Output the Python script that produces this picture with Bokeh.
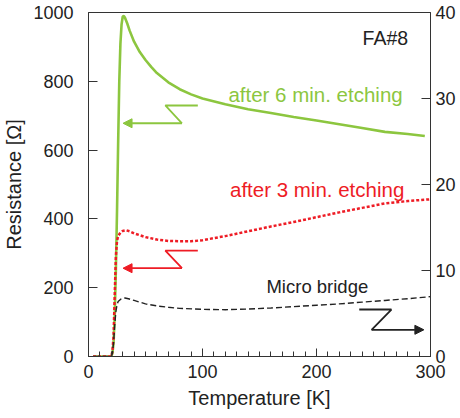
from bokeh.plotting import figure
from bokeh.models import Range1d, LinearAxis, FixedTicker, Arrow, NormalHead
from bokeh.core.properties import value
from bokeh.embed import file_html
from bokeh.resources import INLINE

# ---- data ----
green_T = [4, 10, 15, 20, 21, 22, 23, 24, 25, 26, 27, 28, 29, 30, 31, 32, 34, 36, 40, 45,
           50, 55, 60, 70, 80, 90, 100, 120, 140, 160, 180, 200, 220, 240, 260, 280, 295]
green_R = [0, 0, 0, 0, 10, 40, 120, 250, 420, 620, 800, 910, 965, 988, 990, 985, 968, 948, 915, 885,
           862, 842, 824, 797, 777, 762, 750, 733, 719, 708, 696, 686, 675, 664, 653, 647, 641]

red_T = [4, 10, 15, 20, 21, 22, 23, 24, 25, 26, 28, 30, 33, 36, 40, 50, 60, 70, 80, 90,
         100, 120, 140, 160, 180, 200, 220, 240, 260, 280, 300]
red_R = [0, 0, 0, 0, 15, 60, 180, 290, 335, 350, 360, 365, 367, 364, 358, 347, 340, 336, 335, 335,
         338, 350, 364, 378, 391, 405, 419, 432, 445, 452, 457]

black_T = [4, 10, 15, 20, 21, 22, 23, 24, 25, 26, 28, 30, 32, 35, 40, 50, 60, 70, 80, 100,
           120, 140, 160, 180, 200, 220, 240, 260, 280, 300]
black_R = [0, 0, 0, 0, 10, 40, 90, 130, 150, 160, 166, 169, 170, 168, 163, 153, 147, 143, 140, 137,
           136, 138, 141, 145, 149, 153, 158, 163, 168, 174]

green_arrow_T = [95.9, 67.4, 82.0, 30.3]
green_arrow_R = [729.7, 729.7, 678.0, 678.0]
red_arrow_T = [95.9, 67.4, 82.0, 30.3]
red_arrow_R = [308.0, 308.0, 256.7, 256.7]
black_arrow_T = [237.5, 265.7, 248.3, 294.2]
black_arrow_R = [136.6, 136.6, 77.6, 77.6]

x_ticks = [0, 100, 200, 300]
x_minor = list(range(0, 301, 10))
y_ticks = [0, 200, 400, 600, 800, 1000]
y2_ticks = [0, 10, 20, 30, 40]

labels = ["FA#8", "after 6 min. etching", "after 3 min. etching", "Micro bridge"]
label_T = [240.4, 122.7, 124.1, 156.1]
label_R = [926, 761, 485, 204]

GREEN = "#8cc63f"
RED = "#ee1c25"
BLACK = "#222222"
FONT = "Liberation Sans"

p = figure(width=460, height=418, output_backend="svg", toolbar_location=None,
           x_range=Range1d(0, 300), y_range=Range1d(0, 1000),
           min_border_left=86, min_border_right=30, min_border_top=12, min_border_bottom=62)
p.xgrid.visible = False
p.ygrid.visible = False
p.outline_line_color = "#333333"
p.outline_line_width = 1
p.background_fill_color = "white"
p.border_fill_color = "white"

p.extra_y_ranges = {"r": Range1d(0, 40)}

xa = p.xaxis[0]
xa.ticker = FixedTicker(ticks=x_ticks, minor_ticks=x_minor)
xa.major_tick_in = 8
xa.major_tick_out = 0
xa.minor_tick_in = 5
xa.minor_tick_out = 0
xa.axis_label = "Temperature [K]"
xa.major_label_standoff = 8
xa.axis_label_standoff = 6

ya = p.yaxis[0]
ya.ticker = FixedTicker(ticks=y_ticks)
ya.major_tick_in = 9
ya.major_tick_out = 0
ya.axis_label = "Resistance [Ω]"
ya.major_label_standoff = 15
ya.axis_label_standoff = 5

ra = LinearAxis(y_range_name="r", ticker=FixedTicker(ticks=y2_ticks))
ra.major_tick_in = 9
ra.major_tick_out = 0
ra.major_label_standoff = 5
p.add_layout(ra, "right")

for ax in (xa, ya, ra):
    ax.axis_line_color = "#333333"
    ax.major_tick_line_color = "#333333"
    ax.minor_tick_line_color = "#333333" if ax is xa else None
    ax.major_label_text_font = FONT
    ax.major_label_text_font_size = "18px"
    ax.major_label_text_color = "#222222"
    ax.axis_label_text_font = FONT
    ax.axis_label_text_font_size = "20px"
    ax.axis_label_text_font_style = "normal"
    ax.axis_label_text_color = "#222222"

p.line(green_T, green_R, line_color=GREEN, line_width=2.6)
p.line(red_T, red_R, line_color=RED, line_width=2.5, line_dash="3 2")
p.line(black_T, black_R, line_color=BLACK, line_width=1.4, line_dash="6 3")

for ts, rs, col in ((green_arrow_T, green_arrow_R, GREEN),
                    (red_arrow_T, red_arrow_R, RED),
                    (black_arrow_T, black_arrow_R, BLACK)):
    p.line(ts[:3], rs[:3], line_color=col, line_width=1.8)
    p.add_layout(Arrow(x_start=ts[2], y_start=rs[2], x_end=ts[3], y_end=rs[3],
                       line_color=col, line_width=1.8,
                       end=NormalHead(size=9, fill_color=col, line_color=col, line_width=1)))

sizes = ["19.5px", "20.5px", "20.5px", "18.5px"]
colors = [BLACK, GREEN, RED, BLACK]
for i in range(4):
    p.text(x=[label_T[i]], y=[label_R[i]], text=[labels[i]], text_color=colors[i],
           text_font=value(FONT), text_font_size=sizes[i], text_baseline="alphabetic",
           text_align="left")

open("out.html", "w").write(file_html(p, INLINE))
